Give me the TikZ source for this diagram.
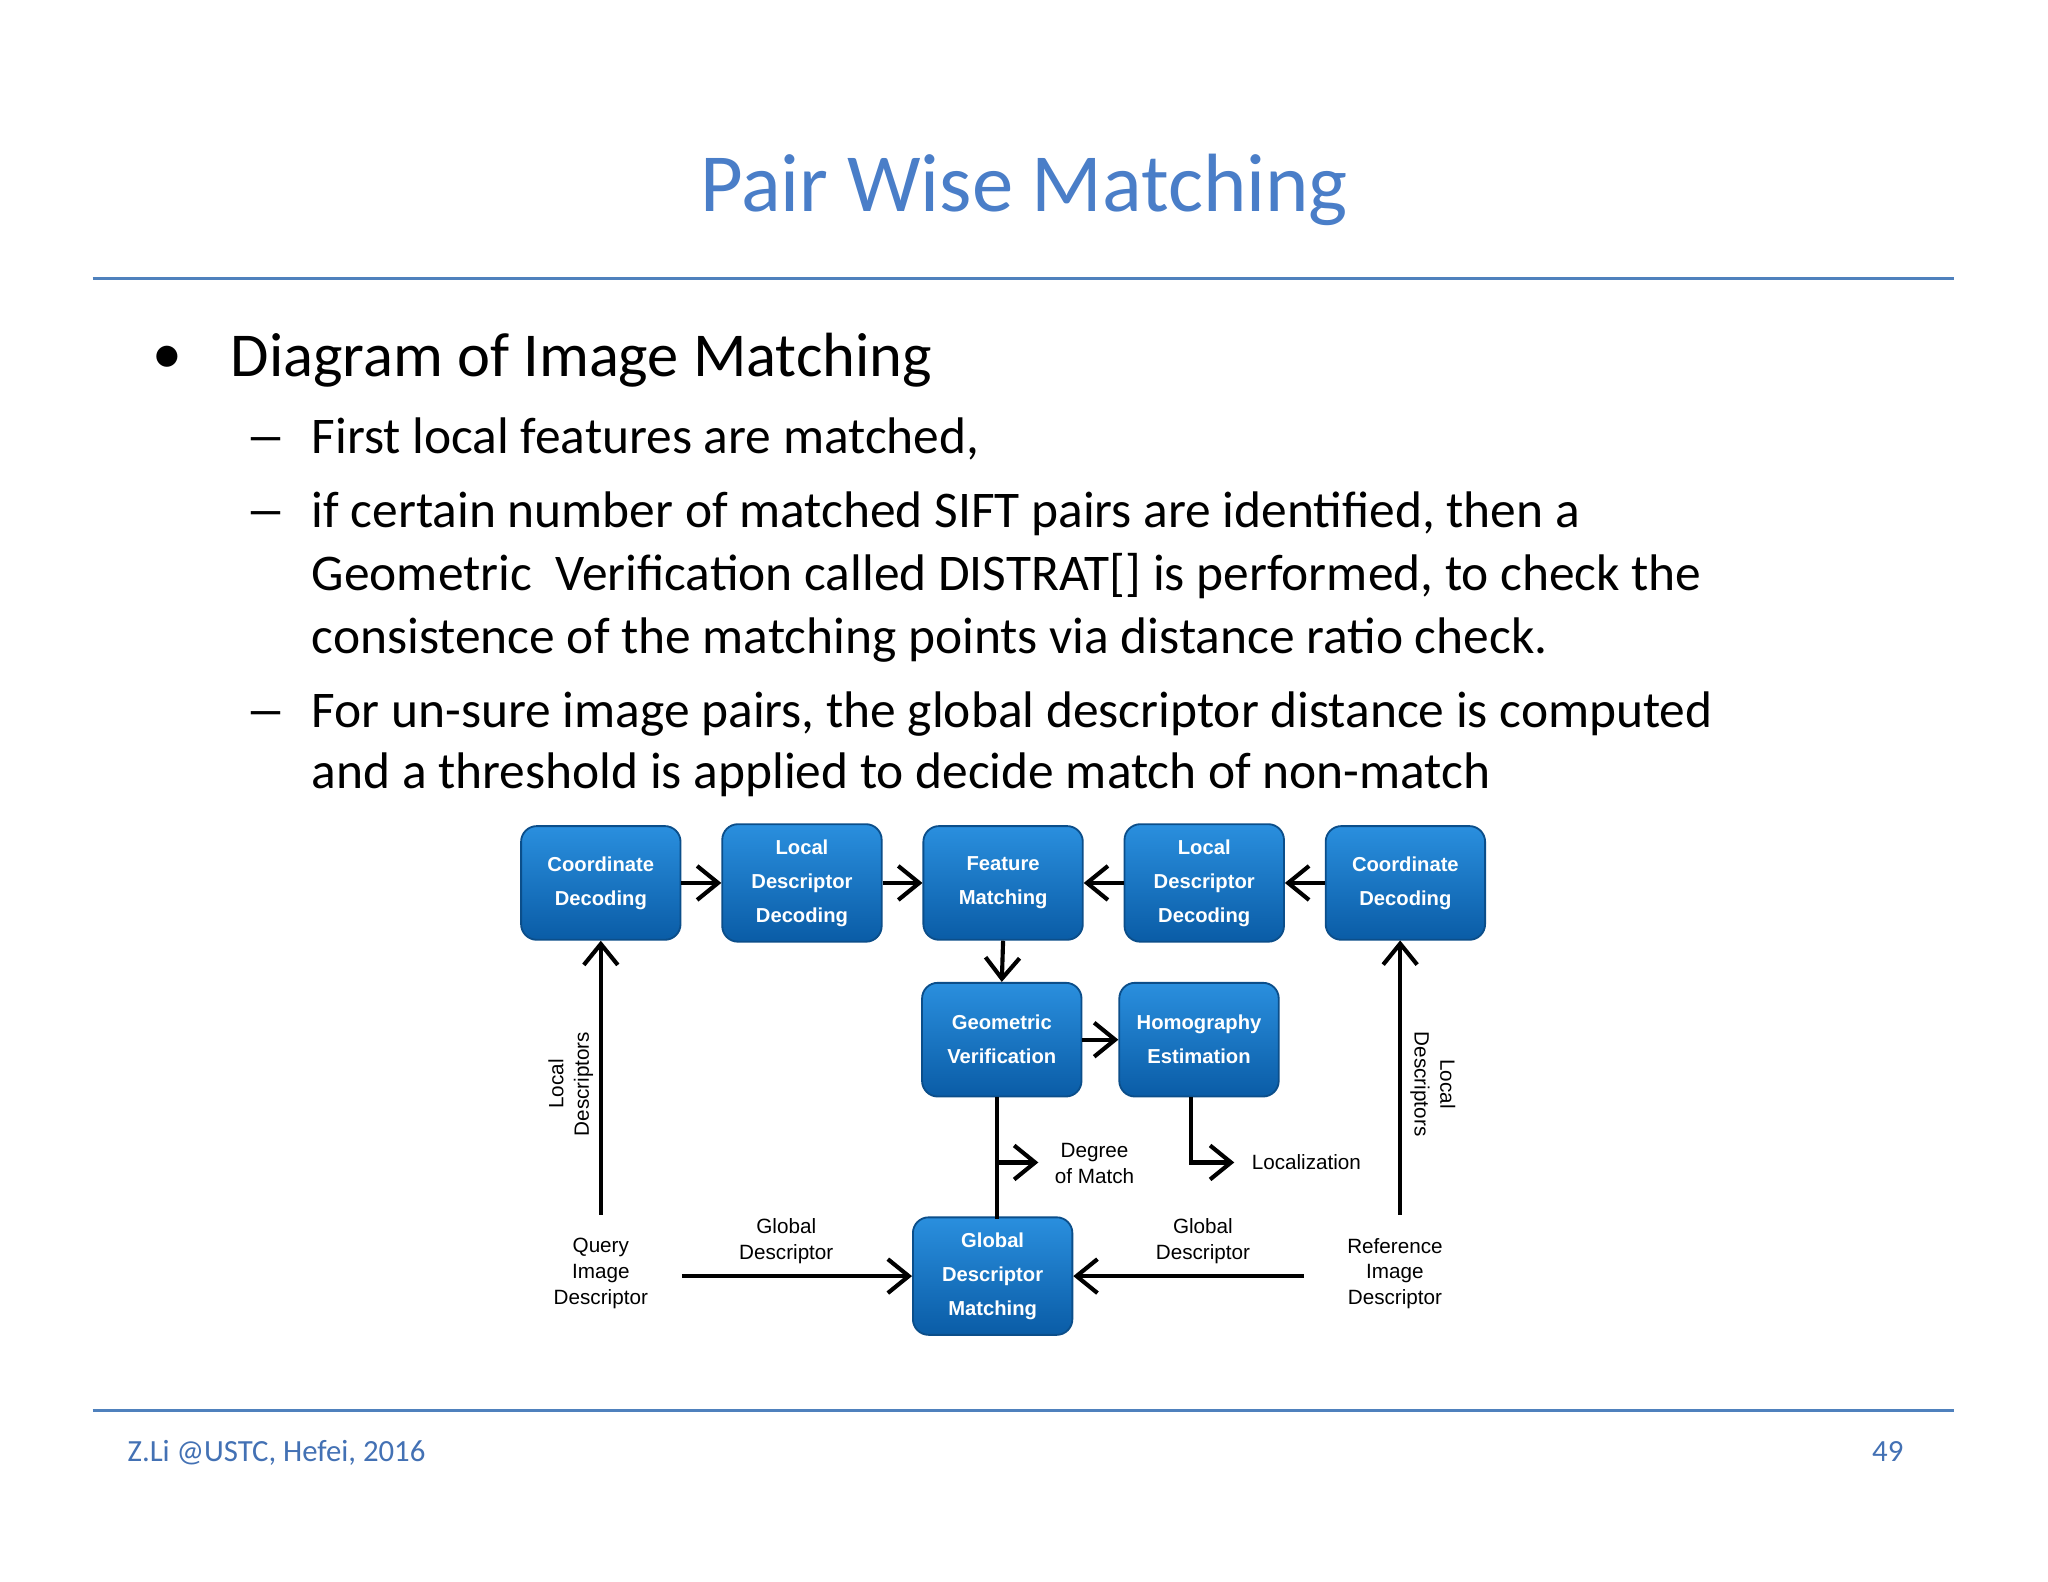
\documentclass[tikz,border=0pt]{standalone}
\usepackage{fontspec}
\setmainfont{Carlito}
\newfontfamily\arialf{Liberation Sans}
\usetikzlibrary{arrows.meta}
\definecolor{slblue}{HTML}{4F81BD}
\definecolor{ttl}{HTML}{4A7EC8}
\definecolor{btop}{HTML}{2A8FDE}
\definecolor{bbot}{HTML}{0A5CA6}
\definecolor{bdr}{HTML}{0B4E8A}
\begin{document}
\begin{tikzpicture}[x=0.01cm,y=-0.01cm,
 box/.style={draw=bdr, line width=0.4pt, rounded corners=1.2mm, top color=btop, bottom color=bbot, minimum width=1.22cm, minimum height=0.87cm, align=center, text=white, font=\arialf\bfseries\fontsize{4.4}{7.4}\selectfont},
 lab/.style={align=center, font=\arialf\fontsize{4.5}{5.6}\selectfont},
 ar/.style={line width=0.9pt, -{Straight Barb[length=1.6mm,width=2.6mm]}},
 ln/.style={line width=0.9pt},
 st/.style={anchor=base west, inner sep=0pt, font=\fontsize{11.2}{13}\selectfont}]
\useasboundingbox[fill=white] (0,0) rectangle (1568,1211);
\node[text=ttl, font=\fontsize{18}{20}\selectfont] (title) at (784,145) {Pair Wise Matching};
\draw[slblue, line width=0.6pt] (71,213) -- (1496,213);
\draw[slblue, line width=0.6pt] (71,1080) -- (1496,1080);
\node[anchor=base, font=\fontsize{13}{14}\selectfont] (b0) at (128,286) {•};
\node[anchor=base west, inner sep=0pt, font=\fontsize{13.6}{15}\selectfont] (b1) at (176,288) {Diagram of Image Matching};
\foreach \yy in {347,404,557}{\node[anchor=base, font=\fontsize{11.2}{13}\selectfont] at (204,\yy) {\scalebox{1.6}[1]{–}};}
\node[st] (s1) at (238,347) {First local features are matched,};
\node[st] (s2) at (238,404) {if certain number of matched SIFT pairs are identified, then a};
\node[st] (s3) at (238,452) {Geometric\ \ Verification called DISTRAT[] is performed, to check the};
\node[st] (s4) at (238,500) {consistence of the matching points via distance ratio check.};
\node[st] (s5) at (238,557) {For un-sure image pairs, the global descriptor distance is computed};
\node[st] (s6) at (238,604) {and a threshold is applied to decide match of non-match};
\node[anchor=base west, inner sep=0pt, text=ttl!90!black, font=\fontsize{6.7}{8}\selectfont] (f1) at (97,1119) {Z.Li @USTC, Hefei, 2016};
\node[anchor=base east, inner sep=0pt, text=ttl!90!black, font=\fontsize{6.7}{8}\selectfont] (f2) at (1458,1119) {49};
% boxes
\node[box] (cd1) at (460,676) {Coordinate\\Decoding};
\node[box] (ld1) at (614,676) {Local\\Descriptor\\Decoding};
\node[box] (fm) at (768,676) {Feature\\Matching};
\node[box] (ld2) at (922,676) {Local\\Descriptor\\Decoding};
\node[box] (cd2) at (1076,676) {Coordinate\\Decoding};
\node[box] (gv) at (767,796) {Geometric\\Verification};
\node[box] (he) at (918,796) {Homography\\Estimation};
\node[box] (gdm) at (760,977) {Global\\Descriptor\\Matching};
% labels
\node[lab] (q) at (460,975) {Query\\Image\\Descriptor};
\node[lab] (r) at (1068,975) {Reference\\Image\\Descriptor};
\node[lab] (gl) at (602,950) {Global\\Descriptor};
\node[lab] (gr) at (921,950) {Global\\Descriptor};
\node[lab] (dm) at (838,891) {Degree\\of Match};
\node[lab, anchor=west] (loc) at (946,890) {Localization};
\node[lab, rotate=90] (lq) at (437,830) {Local\\Descriptors};
\node[lab, rotate=-90] (lr) at (1097,830) {Local\\Descriptors};
% connectors
\coordinate (qt) at (460,930);
\coordinate (rt) at (1072,930);
\draw[ar] (qt) -- (cd1.south);
\draw[ar] (rt) -- (1072,720);
\draw[ar] (cd1) -- (ld1);
\draw[ar] (ld1) -- (fm);
\draw[ar] (cd2) -- (ld2);
\draw[ar] (ld2) -- (fm);
\draw[ar] (fm.south) -- (gv.north);
\draw[ar] (gv) -- (he);
\draw[ln] (763,840) -- (763,933);
\coordinate (dmt) at (795,890);
\draw[ar] (763,890) -- (dmt);
\coordinate (loct) at (945,890);
\draw[ar] (912,840) -- (912,890) -- (loct);
\coordinate (qa) at (522,977);
\coordinate (ra) at (998,977);
\draw[ar] (qa) -- (gdm.west);
\draw[ar] (ra) -- (gdm.east);
\end{tikzpicture}
\end{document}
